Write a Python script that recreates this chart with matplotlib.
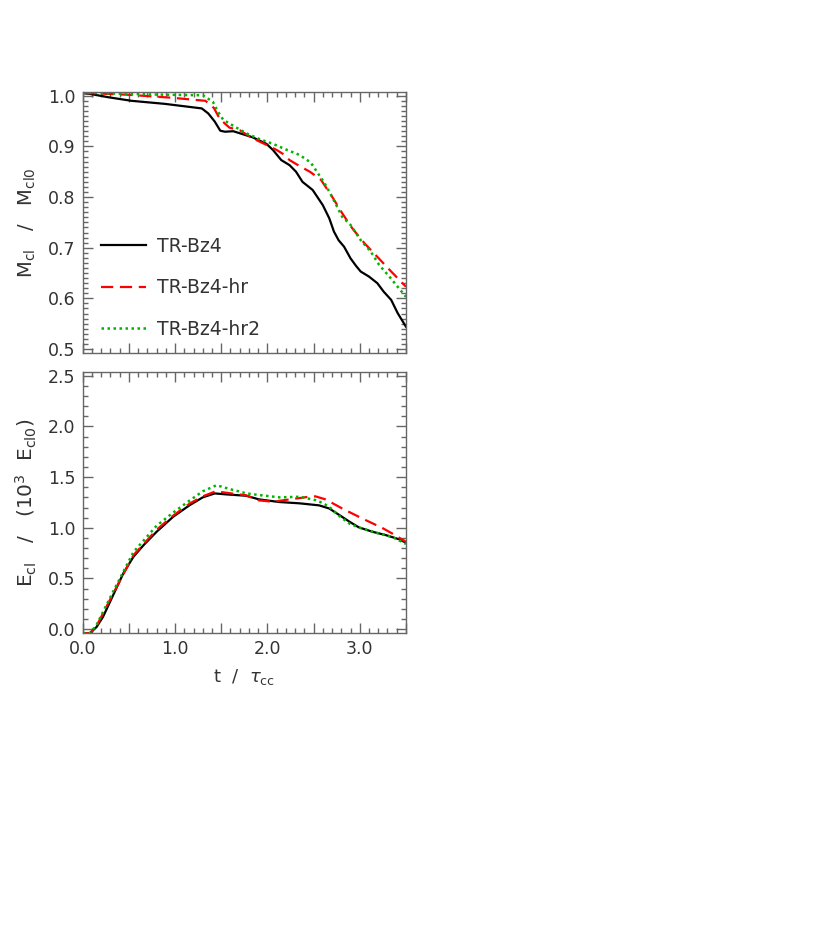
"""Evolution de la masse et de l'energie du nuage (TR-Bz4, resolutions)."""

import matplotlib

matplotlib.use("Agg")
import matplotlib.pyplot as plt
from matplotlib.ticker import FixedLocator, MultipleLocator

plt.rcParams["font.family"] = "DejaVu Sans"
plt.rcParams["mathtext.default"] = "regular"

labels = ["TR-Bz4", "TR-Bz4-hr", "TR-Bz4-hr2"]

# --- panneau haut : M_cl / M_cl0 ---
t_m_bz4 = [0.0, 0.07, 0.28, 0.53, 0.89, 1.29, 1.36, 1.43, 1.49, 1.54, 1.63, 1.70, 1.84,
           1.99, 2.06, 2.15, 2.24, 2.31, 2.38, 2.49, 2.60, 2.67, 2.72, 2.77, 2.83, 2.90,
           2.96, 3.01, 3.10, 3.19, 3.26, 3.34, 3.41, 3.50]
m_bz4 = [1.005, 1.004, 0.997, 0.990, 0.984, 0.975, 0.965, 0.949, 0.931, 0.929, 0.930,
         0.926, 0.918, 0.905, 0.893, 0.873, 0.863, 0.850, 0.830, 0.814, 0.784, 0.758,
         0.732, 0.715, 0.702, 0.679, 0.664, 0.653, 0.643, 0.630, 0.613, 0.597, 0.571,
         0.544]

t_m_hr = [0.0, 0.10, 0.49, 0.97, 1.33, 1.42, 1.48, 1.54, 1.59, 1.70, 1.84, 1.99, 2.10,
          2.17, 2.24, 2.35, 2.46, 2.58, 2.71, 2.81, 2.92, 3.05, 3.19, 3.34, 3.50]
m_hr = [1.006, 1.005, 1.002, 0.996, 0.990, 0.976, 0.956, 0.945, 0.937, 0.932, 0.916,
        0.903, 0.893, 0.885, 0.873, 0.861, 0.850, 0.834, 0.798, 0.768, 0.738, 0.709,
        0.682, 0.653, 0.623]

t_m_hr2 = [0.0, 0.20, 0.90, 1.30, 1.41, 1.46, 1.52, 1.59, 1.77, 1.92, 2.06, 2.20, 2.35,
           2.47, 2.62, 2.69, 2.81, 2.90, 3.01, 3.12, 3.21, 3.32, 3.41, 3.50]
m_hr2 = [1.006, 1.005, 1.002, 1.001, 0.988, 0.970, 0.953, 0.945, 0.926, 0.914, 0.905,
         0.894, 0.883, 0.868, 0.827, 0.804, 0.761, 0.745, 0.715, 0.692, 0.666, 0.643,
         0.623, 0.603]

# --- panneau bas : E_cl / (10^3 E_cl0) ---
t_e_bz4 = [0.0, 0.08, 0.15, 0.22, 0.33, 0.44, 0.55, 0.66, 0.80, 0.98, 1.16, 1.30, 1.43,
           1.56, 1.77, 1.91, 2.13, 2.35, 2.56, 2.67, 2.78, 2.89, 2.99, 3.14, 3.28, 3.43,
           3.50]
e_bz4 = [-0.04, -0.04, 0.02, 0.12, 0.335, 0.55, 0.714, 0.829, 0.96, 1.109, 1.224, 1.30,
         1.339, 1.329, 1.316, 1.28, 1.254, 1.241, 1.221, 1.19, 1.125, 1.059, 1.004, 0.96,
         0.928, 0.885, 0.852]

t_e_hr = [0.0, 0.08, 0.15, 0.33, 0.55, 0.80, 0.98, 1.16, 1.30, 1.44, 1.60, 1.77, 1.91,
          2.06, 2.24, 2.45, 2.52, 2.63, 2.81, 3.03, 3.24, 3.35, 3.50]
e_hr = [-0.04, -0.04, 0.03, 0.35, 0.73, 0.98, 1.12, 1.24, 1.31, 1.36, 1.34, 1.32, 1.27,
        1.257, 1.28, 1.306, 1.31, 1.28, 1.19, 1.09, 1.00, 0.944, 0.862]

t_e_hr2 = [0.0, 0.08, 0.15, 0.33, 0.55, 0.80, 0.98, 1.16, 1.30, 1.45, 1.60, 1.77, 1.91,
           2.13, 2.35, 2.52, 2.61, 2.69, 2.78, 2.89, 3.00, 3.18, 3.35, 3.50]
e_hr2 = [-0.04, -0.04, 0.04, 0.37, 0.76, 1.02, 1.15, 1.27, 1.36, 1.42, 1.38, 1.34, 1.323,
         1.30, 1.306, 1.273, 1.24, 1.19, 1.115, 1.04, 1.00, 0.95, 0.91, 0.84]

styles = [
    dict(color="black", lw=1.6, ls="-"),
    dict(color="#ff0000", lw=1.6, ls=(0, (5.5, 3.0))),
    dict(color="#00b400", lw=1.8, ls=(0, (1, 1.4))),
]
TXT = "#333333"
AX = "#666666"

fig = plt.figure(figsize=(8.3, 9.33), dpi=100)
ax1 = fig.add_axes([0.0996, 0.6213, 0.3895, 0.2797])
ax2 = fig.add_axes([0.0996, 0.3212, 0.3895, 0.2797])

for (t, y), lab, st in zip([(t_m_bz4, m_bz4), (t_m_hr, m_hr), (t_m_hr2, m_hr2)], labels, styles):
    ax1.plot(t, y, label=lab, **st)
for (t, y), st in zip([(t_e_bz4, e_bz4), (t_e_hr, e_hr), (t_e_hr2, e_hr2)], styles):
    ax2.plot(t, y, **st)

ax1.set_ylim(0.4915, 1.0067)
ax2.set_ylim(-0.042, 2.534)
ax1.yaxis.set_major_locator(MultipleLocator(0.1))
ax1.yaxis.set_minor_locator(MultipleLocator(0.01))
ax2.yaxis.set_major_locator(FixedLocator([0.0, 0.5, 1.0, 1.5, 2.0, 2.5]))
ax2.yaxis.set_minor_locator(MultipleLocator(0.1))

for ax in (ax1, ax2):
    ax.set_xlim(0, 3.5)
    ax.xaxis.set_major_locator(MultipleLocator(0.5))
    ax.xaxis.set_minor_locator(MultipleLocator(0.1))
    ax.tick_params(which="both", direction="in", top=True, right=True, color=AX,
                   labelcolor=TXT, labelsize=12.5, width=1)
    ax.tick_params(which="major", length=7, pad=5)
    ax.tick_params(which="minor", length=3.5)
    ax.yaxis.set_major_formatter(plt.FuncFormatter(lambda v, p: f"{v:.1f}"))
    for s in ax.spines.values():
        s.set_color(AX)
        s.set_linewidth(1)

ax1.tick_params(labelbottom=False)
ax2.xaxis.set_major_formatter(
    plt.FuncFormatter(lambda v, p: f"{v:.1f}" if abs(v - round(v)) < 1e-6 else ""))

ax1.set_ylabel("M$_{cl}$   /   M$_{cl0}$", fontsize=14, color=TXT, labelpad=7)
ax2.set_ylabel("E$_{cl}$   /   (10$^3$  E$_{cl0}$)", fontsize=14.5, color=TXT, labelpad=7)
ax2.set_xlabel("t  /  $\\mathit{\\tau}_{cc}$", fontsize=13, color=TXT, labelpad=6)

ax1.legend(loc="lower left", bbox_to_anchor=(0.058, 0.055), frameon=False,
           fontsize=13.5, handlelength=2.4, handletextpad=0.55, labelspacing=1.2,
           borderpad=0, borderaxespad=0, labelcolor=TXT)

fig.savefig("out.png", dpi=100)
